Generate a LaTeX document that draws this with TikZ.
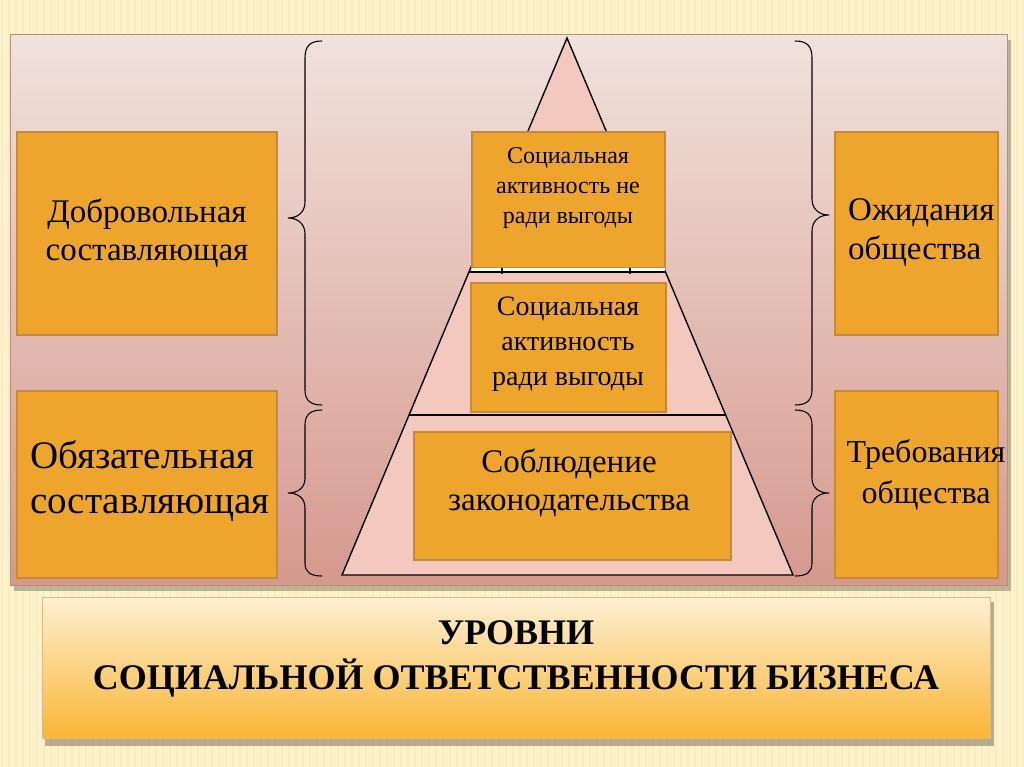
\documentclass[tikz,border=0pt]{standalone}
\usepackage{fontspec}
\setmainfont{Liberation Serif}
\usetikzlibrary{calc}
\definecolor{cream}{RGB}{251,241,203}
\definecolor{stripe}{RGB}{240,226,178}
\definecolor{paneltop}{RGB}{240,226,220}
\definecolor{panelbot}{RGB}{214,152,142}
\definecolor{panelline}{RGB}{175,145,125}
\definecolor{boxfill}{RGB}{237,165,45}
\definecolor{boxline}{RGB}{196,138,52}
\definecolor{pyrfill}{RGB}{243,200,190}
\definecolor{bantop}{RGB}{253,240,212}
\definecolor{banmid}{RGB}{252,214,140}
\definecolor{banbot}{RGB}{250,182,52}
\definecolor{shadowc}{RGB}{120,105,80}
\begin{document}
\begin{tikzpicture}[x=1pt,y=-1pt,
  obox/.style={draw=boxline, line width=1.8pt, fill=boxfill, inner sep=0pt},
  txt/.style={text=black, align=center, inner sep=0pt},
  bracestyle/.style={draw=black, line width=1.1pt},
  pyrline/.style={draw=black, line width=1.4pt}
]
\useasboundingbox (0,0) rectangle (1024,767);
\fill[cream] (0,0) rectangle (1024,767);
\foreach \i in {2,9,...,1024} \draw[stripe, opacity=0.35, line width=2pt] (\i,0) -- (\i,767);

% main panel
\fill[shadowc, opacity=0.45] (14,40) rectangle (1011,591);
\shade[top color=paneltop, bottom color=panelbot] (10,35) rectangle (1007,585);
\draw[panelline, line width=1pt] (10,35) rectangle (1007,585);

% pyramid
\coordinate (apex) at (567,38);
\coordinate (bl) at (342,575);
\coordinate (br) at (793,575);
\fill[pyrfill] (apex) -- (br) -- (bl) -- cycle;
\draw[pyrline, line join=miter] (apex) -- (br) -- (bl) -- cycle;
\coordinate (d1l) at ($(apex)!0.702!(bl)$);
\coordinate (d1r) at ($(apex)!0.702!(br)$);
\coordinate (d2l) at ($(apex)!0.4358!(bl)$);
\coordinate (d2r) at ($(apex)!0.4358!(br)$);
\draw[pyrline] (d1l) -- (d1r);
\draw[pyrline] (d2l) -- (d2r);

% boxes
\node[obox, minimum width=193pt, minimum height=136pt] (topbox) at (568.5,200) {};
\fill[white] (472,268) rectangle (665,271);
\draw[black, line width=1.2pt] (502,268) -- (502,274);
\draw[black, line width=1.2pt] (630,268) -- (630,274);
\node[obox, minimum width=195pt, minimum height=129pt] (midbox) at (568.5,347.5) {};
\node[obox, minimum width=317pt, minimum height=128pt] (lowbox) at (572.5,496) {};
\node[obox, minimum width=260pt, minimum height=203pt] (lbox1) at (147,233.5) {};
\node[obox, minimum width=260pt, minimum height=187pt] (lbox2) at (147,484.5) {};
\node[obox, minimum width=163pt, minimum height=203pt] (rbox1) at (916.5,233.5) {};
\node[obox, minimum width=163pt, minimum height=187pt] (rbox2) at (916.5,484.5) {};

% texts
\node[txt, font=\fontsize{24}{30}\selectfont] (ttop) at (568,188.5) {Социальная\\активность не\\ради выгоды};
\node[txt, font=\fontsize{28}{35}\selectfont] (tmid) at (568,344) {Социальная\\активность\\ради выгоды};
\node[txt, font=\fontsize{33}{38}\selectfont] (tlow) at (569,483) {Соблюдение\\законодательства};
\node[txt, font=\fontsize{33}{38}\selectfont] (tl1) at (147,233) {Добровольная\\составляющая};
\node[txt, font=\fontsize{39}{45}\selectfont, align=left, anchor=west] (tl2) at (30,481.5) {Обязательная\\составляющая};
\node[txt, font=\fontsize{33}{39}\selectfont, align=left, anchor=west] (tr1) at (848,233) {Ожидания\\общества};
\node[txt, font=\fontsize{32}{41}\selectfont] (tr2) at (926,475) {Требования\\общества};

% braces left
\draw[bracestyle] (322,41) .. controls (310,41) and (305,46) .. (305,58) -- (305,202)
  .. controls (305,212) and (298,218) .. (288,218)
  .. controls (298,218) and (305,224) .. (305,234) -- (305,390)
  .. controls (305,400) and (310,405) .. (322,405);
\draw[bracestyle] (322,410) .. controls (310,410) and (305,415) .. (305,425) -- (305,478)
  .. controls (305,488) and (298,493) .. (288,493)
  .. controls (298,493) and (305,498) .. (305,508) -- (305,563)
  .. controls (305,572) and (310,576) .. (322,576);
% braces right
\begin{scope}[xshift=1117pt, xscale=-1]
\draw[bracestyle] (322,41) .. controls (310,41) and (305,46) .. (305,58) -- (305,199)
  .. controls (305,209) and (298,215) .. (288,215)
  .. controls (298,215) and (305,221) .. (305,231) -- (305,390)
  .. controls (305,400) and (310,405) .. (322,405);
\draw[bracestyle] (322,410) .. controls (310,410) and (305,415) .. (305,425) -- (305,478)
  .. controls (305,488) and (298,493) .. (288,493)
  .. controls (298,493) and (305,498) .. (305,508) -- (305,563)
  .. controls (305,572) and (310,576) .. (322,576);
\end{scope}

% banner
\fill[shadowc, opacity=0.5] (45,602) rectangle (994,746);
\shade[top color=bantop, middle color=banmid, bottom color=banbot] (42,597) rectangle (990,738);
\draw[boxline!60, line width=0.8pt] (42,597) rectangle (990,738);
\node[txt, font=\fontsize{36}{45}\selectfont\bfseries] (title) at (516,659) {УРОВНИ\\СОЦИАЛЬНОЙ ОТВЕТСТВЕННОСТИ БИЗНЕСА};
\end{tikzpicture}
\end{document}
